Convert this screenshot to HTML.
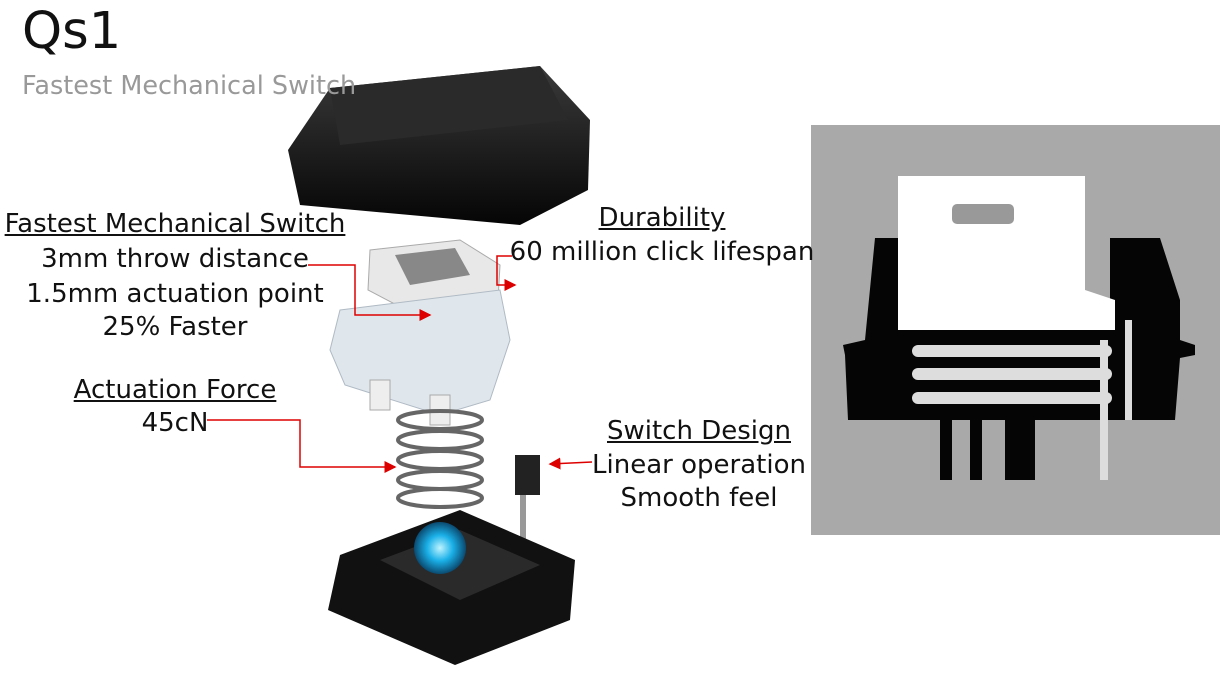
<!DOCTYPE html>
<html><head><meta charset="utf-8"><style>
body{margin:0;width:1220px;height:680px;background:#fff;overflow:hidden;position:relative;font-family:"DejaVu Sans","Liberation Sans",sans-serif}
.t{position:absolute;white-space:nowrap;color:#111;font-size:26px;text-align:center;transform:translateX(-50%)}
.u{text-decoration:underline}
</style></head><body>
<svg width="1220" height="680" style="position:absolute;left:0;top:0">
<defs>
<linearGradient id="cap" x1="0" y1="0" x2="0" y2="1"><stop offset="0" stop-color="#3a3a3a"/><stop offset="1" stop-color="#050505"/></linearGradient>
<radialGradient id="led"><stop offset="0" stop-color="#bff4ff"/><stop offset=".5" stop-color="#1ab0e8"/><stop offset="1" stop-color="#0a4a70"/></radialGradient>
<marker id="a" markerWidth="8" markerHeight="8" refX="7" refY="4" orient="auto"><path d="M0,0L8,4L0,8z" fill="#d00"/></marker>
</defs>
<path d="M330,88 L540,66 L590,120 L588,190 L520,225 L300,205 L288,150 Z" fill="url(#cap)"/>
<path d="M330,88 L540,66 L568,120 L340,145 Z" fill="#2a2a2a"/>
<path d="M370,250 L460,240 L500,265 L498,300 L410,312 L368,290 Z" fill="#e8e8e8" stroke="#aaa"/>
<path d="M395,255 L455,248 L470,275 L410,285 Z" fill="#888"/>
<path d="M340,310 L500,290 L510,340 L490,400 L440,415 L345,385 L330,350 Z" fill="#dfe6ec" stroke="#b0bac4"/>
<rect x="370" y="380" width="20" height="30" fill="#eee" stroke="#aaa"/>
<rect x="430" y="395" width="20" height="30" fill="#eee" stroke="#aaa"/>
<g stroke="#666" stroke-width="4" fill="none">
<ellipse cx="440" cy="420" rx="42" ry="9"/><ellipse cx="440" cy="440" rx="42" ry="9"/><ellipse cx="440" cy="460" rx="42" ry="9"/><ellipse cx="440" cy="480" rx="42" ry="9"/><ellipse cx="440" cy="498" rx="42" ry="9"/></g>
<rect x="515" y="455" width="25" height="40" fill="#222"/>
<rect x="520" y="495" width="6" height="50" fill="#999"/>
<path d="M340,555 L460,510 L575,560 L570,620 L455,665 L328,610 Z" fill="#111"/>
<path d="M380,560 L460,530 L540,565 L460,600 Z" fill="#2a2a2a"/>
<circle cx="440" cy="548" r="26" fill="url(#led)"/>
<rect x="811" y="125" width="409" height="410" fill="#a9a9a9"/>
<path d="M875,238 L898,238 L898,325 L1110,325 L1110,238 L1160,238 L1180,300 L1180,340 L1195,345 L1195,355 L1180,358 L1175,420 L848,420 L845,355 L843,345 L865,340 Z" fill="#050505"/>
<rect x="940" y="420" width="12" height="60" fill="#050505"/>
<rect x="970" y="420" width="12" height="60" fill="#050505"/>
<rect x="1005" y="420" width="30" height="60" fill="#050505"/>
<path d="M898,176 L1085,176 L1085,290 L1115,300 L1115,330 L898,330 Z" fill="#fff"/>
<rect x="952" y="204" width="62" height="20" rx="5" fill="#999"/>
<g fill="#ddd"><rect x="912" y="345" width="200" height="12" rx="6"/><rect x="912" y="368" width="200" height="12" rx="6"/><rect x="912" y="392" width="200" height="12" rx="6"/></g>
<rect x="1100" y="340" width="8" height="140" fill="#ddd"/>
<rect x="1125" y="320" width="7" height="100" fill="#ddd"/>
<g stroke="#d00" stroke-width="1.5" fill="none">
<polyline points="308,265 355,265 355,315 430,315" marker-end="url(#a)"/>
<polyline points="207,420 300,420 300,467 395,467" marker-end="url(#a)"/>
<polyline points="512,256 497,256 497,285 515,285" marker-end="url(#a)"/>
<polyline points="592,462 550,464" marker-end="url(#a)"/>
</g>
</svg>
<div style="position:absolute;left:22px;top:2px;font-size:51px;color:#111">Qs1</div>
<div style="position:absolute;left:22px;top:71px;font-size:25.5px;color:#999">Fastest Mechanical Switch</div>
<div class="t u" style="left:175px;top:209px">Fastest Mechanical Switch</div>
<div class="t" style="left:175px;top:244px">3mm throw distance</div>
<div class="t" style="left:175px;top:279px">1.5mm actuation point</div>
<div class="t" style="left:175px;top:312px">25% Faster</div>
<div class="t u" style="left:175px;top:375px">Actuation Force</div>
<div class="t" style="left:175px;top:408px">45cN</div>
<div class="t u" style="left:662px;top:203px">Durability</div>
<div class="t" style="left:662px;top:237px">60 million click lifespan</div>
<div class="t u" style="left:699px;top:416px">Switch Design</div>
<div class="t" style="left:699px;top:450px">Linear operation</div>
<div class="t" style="left:699px;top:483px">Smooth feel</div>
</body></html>
